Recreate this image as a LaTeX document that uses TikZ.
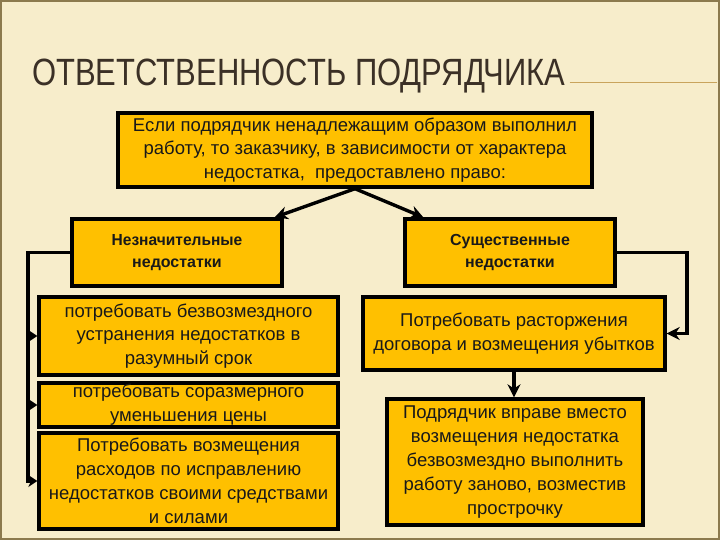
\documentclass[tikz,border=0pt]{standalone}
\usepackage{fontspec}
\setmainfont{Liberation Sans}
\usetikzlibrary{arrows.meta,positioning}
\definecolor{slidebg}{HTML}{F7EDCB}
\definecolor{boxfill}{HTML}{FFC000}
\definecolor{titlebrown}{HTML}{3B3026}
\definecolor{rulegold}{HTML}{C9A45C}
\definecolor{framebrown}{HTML}{8C7A4E}

\begin{document}
\begin{tikzpicture}[x=1pt, y=-1pt,
    box/.style={draw=black, line width=3.4pt, fill=boxfill, inner sep=0pt, align=center, text=black!90, font=\fontsize{18.5}{23.8}\selectfont},
    head/.style={box, font=\fontsize{16}{22.5}\selectfont\bfseries},
    arr/.style={-{Stealth[length=13pt,width=13pt]}, line width=3.4pt},
    sarr/.style={-{Stealth[length=9pt,width=12pt]}, line width=3.4pt},
    ttl/.style={anchor=base west, inner sep=0pt, text=titlebrown, font=\fontsize{38}{40}\selectfont}
]
\fill[slidebg] (0,0) rectangle (720,540);
\draw[framebrown, line width=2pt] (1,1) rectangle (719,539);

\node[ttl] (title) at (32,86) {\scalebox{0.815}[1]{ОТВЕТСТВЕННОСТЬ ПОДРЯДЧИКА}};
\draw[rulegold, line width=1pt] ([xshift=4pt]title.base east) ++(0,-3) -- (717,83);

\node[box, minimum width=474pt, minimum height=74pt] (top) at (355,150) {Если подрядчик ненадлежащим образом выполнил\\работу, то заказчику, в зависимости от характера\\недостатка,~ предоставлено право:};
\node[head, minimum width=210pt, minimum height=67pt] (lhead) at (177,252.5) {\scalebox{0.97}[1]{Незначительные}\\недостатки};
\node[head, minimum width=210pt, minimum height=67pt] (rhead) at (510,252.5) {Существенные\\недостатки};

\node[box, minimum width=299pt, minimum height=78pt] (l1) at (188.5,336) {потребовать безвозмездного\\устранения недостатков в\\разумный срок};
\node[box, minimum width=299pt, minimum height=44pt] (l2) at (188.5,405) {потребовать соразмерного\\уменьшения цены};
\node[box, minimum width=299pt, minimum height=96pt] (l3) at (188.5,481) {Потребовать возмещения\\расходов по исправлению\\недостатков своими средствами\\и силами};

\node[box, minimum width=302pt, minimum height=73pt] (r1) at (514,333.5) {Потребовать расторжения\\договора и возмещения убытков};
\node[box, minimum width=256pt, minimum height=126pt] (r2) at (515,462) {Подрядчик вправе вместо\\возмещения недостатка\\безвозмездно выполнить\\работу заново, возместив\\прострочку};

\coordinate (lbus) at (28,0);
\coordinate (rbus) at (687,0);

\draw[arr] (top.south) -- ([xshift=-9pt]lhead.north east);
\draw[arr] (top.south) -- ([xshift=20pt]rhead.north west);
\draw[sarr] (lhead.west) -- (lhead.west -| lbus) |- (l3.west);
\draw[sarr] (l1.west -| lbus) -- (l1.west);
\draw[sarr] (l2.west -| lbus) -- (l2.west);
\draw[arr] (rhead.east) -- (rhead.east -| rbus) |- (r1.east);
\draw[arr] (r1.south) -- (r1.south |- r2.north);
\end{tikzpicture}
\end{document}
